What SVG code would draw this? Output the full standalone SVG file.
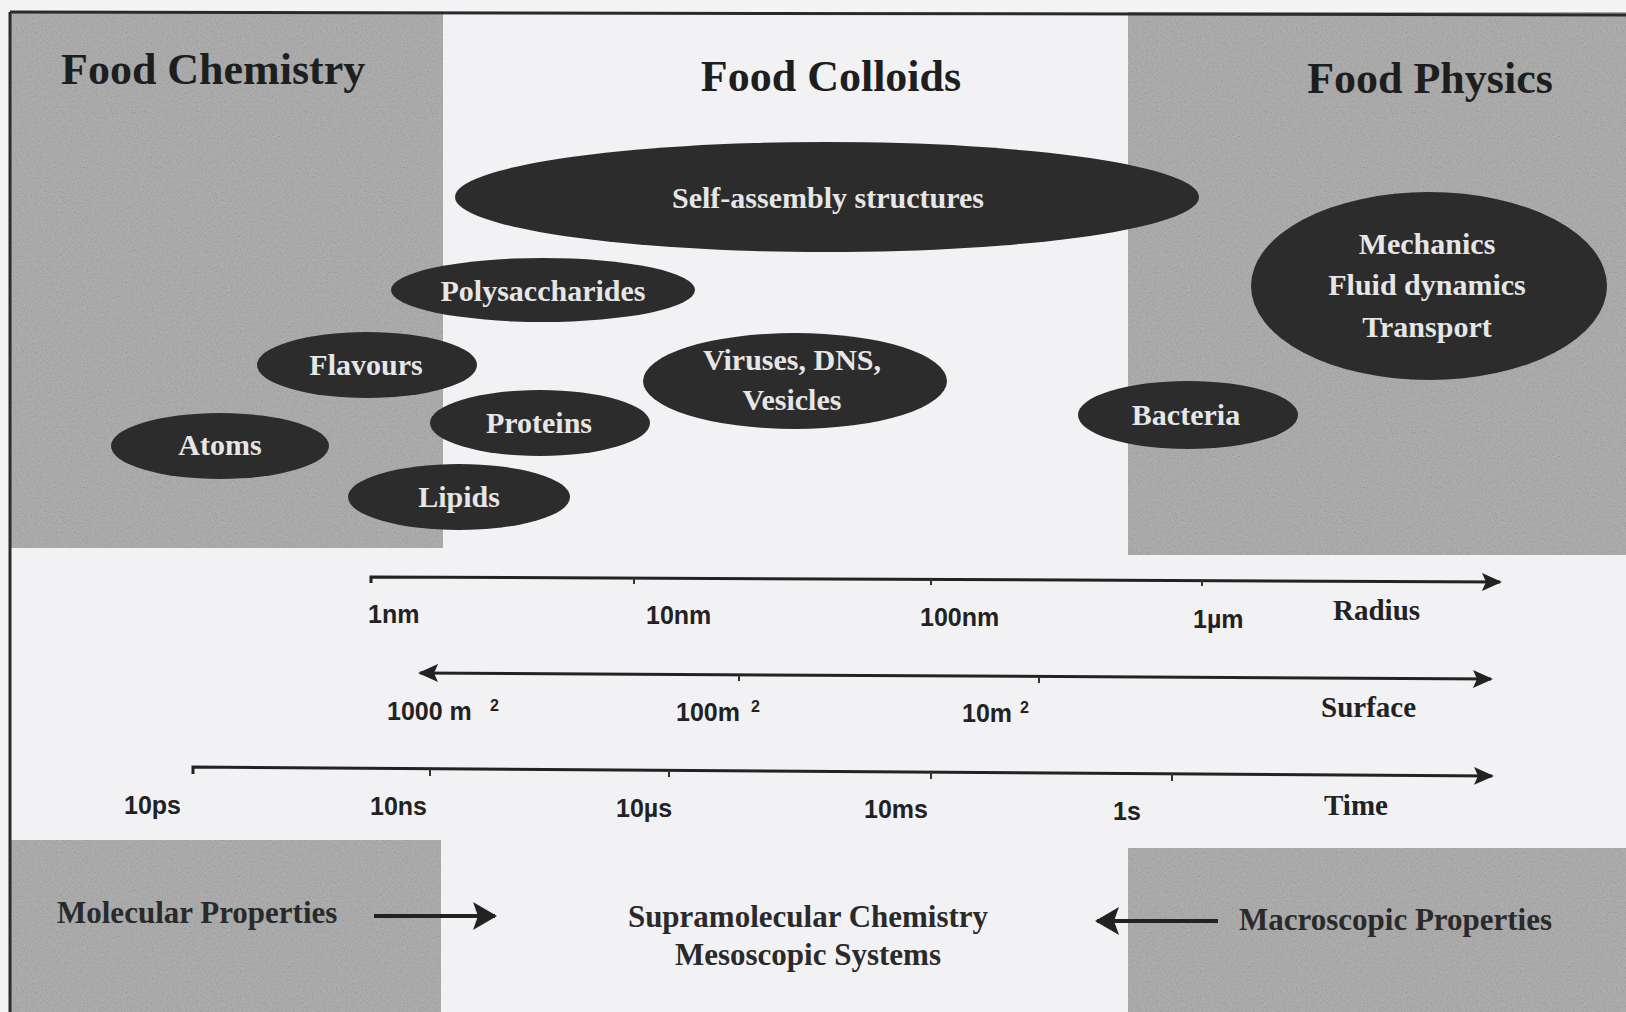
<svg xmlns="http://www.w3.org/2000/svg" width="1626" height="1012" viewBox="0 0 1626 1012">
<defs>
<filter id="grain" x="0" y="0" width="100%" height="100%">
<feTurbulence type="fractalNoise" baseFrequency="0.8" numOctaves="2" seed="4" result="n"/>
<feColorMatrix in="n" type="saturate" values="0" result="g"/>
<feComponentTransfer in="g" result="c">
<feFuncR type="linear" slope="0.8" intercept="0.58"/>
<feFuncG type="linear" slope="0.8" intercept="0.58"/>
<feFuncB type="linear" slope="0.8" intercept="0.58"/>
<feFuncA type="linear" slope="0" intercept="1"/>
</feComponentTransfer>
<feBlend in="SourceGraphic" in2="c" mode="multiply" result="b"/>
<feComposite in="b" in2="SourceGraphic" operator="in"/>
</filter>
<marker id="ah" viewBox="0 0 20 20" refX="18" refY="10" markerWidth="20" markerHeight="20" markerUnits="userSpaceOnUse" orient="auto-start-reverse">
<path d="M0,1 L20,10 L0,19 L4,10 Z" fill="#222"/>
</marker>
<marker id="ahb" viewBox="0 0 24 28" refX="22" refY="14" markerWidth="24" markerHeight="28" markerUnits="userSpaceOnUse" orient="auto">
<path d="M0,0 L24,14 L0,28 L5,14 Z" fill="#222"/>
</marker>
</defs>
<style>
.panel{fill:#acacac;filter:url(#grain)}
.node ellipse{fill:#2c2c2c}
.nl{font-family:"Liberation Serif","Times New Roman",serif;font-weight:bold;font-size:30px;fill:#e6e6e6;text-anchor:middle}
.title{font-family:"Liberation Serif","Times New Roman",serif;font-weight:bold;font-size:44px;fill:#1e1e1e}
.ax{font-family:"Liberation Sans",Arial,sans-serif;font-weight:bold;font-size:25px;fill:#222}
.axn{font-family:"Liberation Serif","Times New Roman",serif;font-weight:bold;font-size:29px;fill:#222}
.sup{font-family:"Liberation Sans",Arial,sans-serif;font-weight:bold;font-size:16px;fill:#222}
.bt{font-family:"Liberation Serif","Times New Roman",serif;font-weight:bold;font-size:31px;fill:#2a2a2a}
.line{stroke:#222;stroke-width:3;fill:none}
.bline{stroke:#222;stroke-width:4;fill:none}
.tick{stroke:#333;stroke-width:2;fill:none}
</style>
<rect x="0" y="0" width="1626" height="1012" fill="#f4f4f6"/>
<rect x="10" y="12" width="1616" height="1000" fill="#f2f2f5"/>
<g id="panels">
<rect class="panel" x="10" y="12" width="433" height="536"/>
<rect class="panel" x="1128" y="12" width="498" height="543"/>
<rect class="panel" x="10" y="840" width="431" height="172"/>
<rect class="panel" x="1128" y="848" width="498" height="164"/>
</g>
<path d="M10,12 L1626,15" stroke="#2a2a2a" stroke-width="3"/>
<path d="M10,12 L10,1012" stroke="#2a2a2a" stroke-width="3"/>
<g id="titles">
<text class="title" x="61" y="84">Food Chemistry</text>
<text class="title" x="831" y="91" text-anchor="middle">Food Colloids</text>
<text class="title" x="1430" y="93" text-anchor="middle">Food Physics</text>
</g>
<g id="node-selfassembly" class="node">
<ellipse cx="827" cy="197" rx="372" ry="55"/>
<text class="nl" x="828" y="208">Self-assembly structures</text>
</g>
<g id="node-mechanics" class="node">
<ellipse cx="1429" cy="286" rx="178" ry="94"/>
<text class="nl" x="1427" y="254">Mechanics</text>
<text class="nl" x="1427" y="295">Fluid dynamics</text>
<text class="nl" x="1427" y="337">Transport</text>
</g>
<g id="node-polysaccharides" class="node">
<ellipse cx="543" cy="290" rx="152" ry="32"/>
<text class="nl" x="543" y="301">Polysaccharides</text>
</g>
<g id="node-flavours" class="node">
<ellipse cx="367" cy="365" rx="110" ry="33"/>
<text class="nl" x="366" y="375">Flavours</text>
</g>
<g id="node-viruses" class="node">
<ellipse cx="795" cy="381" rx="152" ry="48"/>
<text class="nl" x="792" y="370">Viruses, DNS,</text>
<text class="nl" x="792" y="410">Vesicles</text>
</g>
<g id="node-proteins" class="node">
<ellipse cx="540" cy="423" rx="110" ry="33"/>
<text class="nl" x="539" y="433">Proteins</text>
</g>
<g id="node-atoms" class="node">
<ellipse cx="220" cy="446" rx="109" ry="33"/>
<text class="nl" x="220" y="455">Atoms</text>
</g>
<g id="node-lipids" class="node">
<ellipse cx="459" cy="497" rx="111" ry="33"/>
<text class="nl" x="459" y="507">Lipids</text>
</g>
<g id="node-bacteria" class="node">
<ellipse cx="1188" cy="415" rx="110" ry="34"/>
<text class="nl" x="1186" y="425">Bacteria</text>
</g>
<g id="connectors">
<path class="line" d="M371,583 L371,577 L1500,582" marker-end="url(#ah)"/>
<path class="tick" d="M634,578 v6 M931,579 v6 M1202,580 v6"/>
<path class="line" d="M420,673 L1491,679" marker-start="url(#ah)" marker-end="url(#ah)"/>
<path class="tick" d="M739,675 v6 M1039,677 v6"/>
<path class="line" d="M193,774 L193,767 L1492,776" marker-end="url(#ah)"/>
<path class="tick" d="M430,769 v7 M669,770 v7 M931,772 v7 M1172,774 v7"/>
<path class="bline" d="M374,916 L495,916" marker-end="url(#ahb)"/>
<path class="bline" d="M1218,921 L1097,921" marker-end="url(#ahb)"/>
</g>
<g id="axis-labels">
<text class="ax" x="368" y="623">1nm</text>
<text class="ax" x="646" y="624">10nm</text>
<text class="ax" x="920" y="626">100nm</text>
<text class="ax" x="1193" y="628">1µm</text>
<text class="axn" x="1333" y="620">Radius</text>
<text class="ax" x="387" y="720">1000 m</text>
<text class="sup" x="490" y="711">2</text>
<text class="ax" x="676" y="721">100m</text>
<text class="sup" x="751" y="712">2</text>
<text class="ax" x="962" y="722">10m</text>
<text class="sup" x="1020" y="713">2</text>
<text class="axn" x="1321" y="717">Surface</text>
<text class="ax" x="124" y="814">10ps</text>
<text class="ax" x="370" y="815">10ns</text>
<text class="ax" x="616" y="817">10µs</text>
<text class="ax" x="864" y="818">10ms</text>
<text class="ax" x="1113" y="820">1s</text>
<text class="axn" x="1324" y="815">Time</text>
</g>
<g id="bottom-labels">
<text class="bt" x="57" y="923">Molecular Properties</text>
<text class="bt" x="808" y="927" text-anchor="middle">Supramolecular Chemistry</text>
<text class="bt" x="808" y="965" text-anchor="middle">Mesoscopic Systems</text>
<text class="bt" x="1239" y="930">Macroscopic Properties</text>
</g>
</svg>
